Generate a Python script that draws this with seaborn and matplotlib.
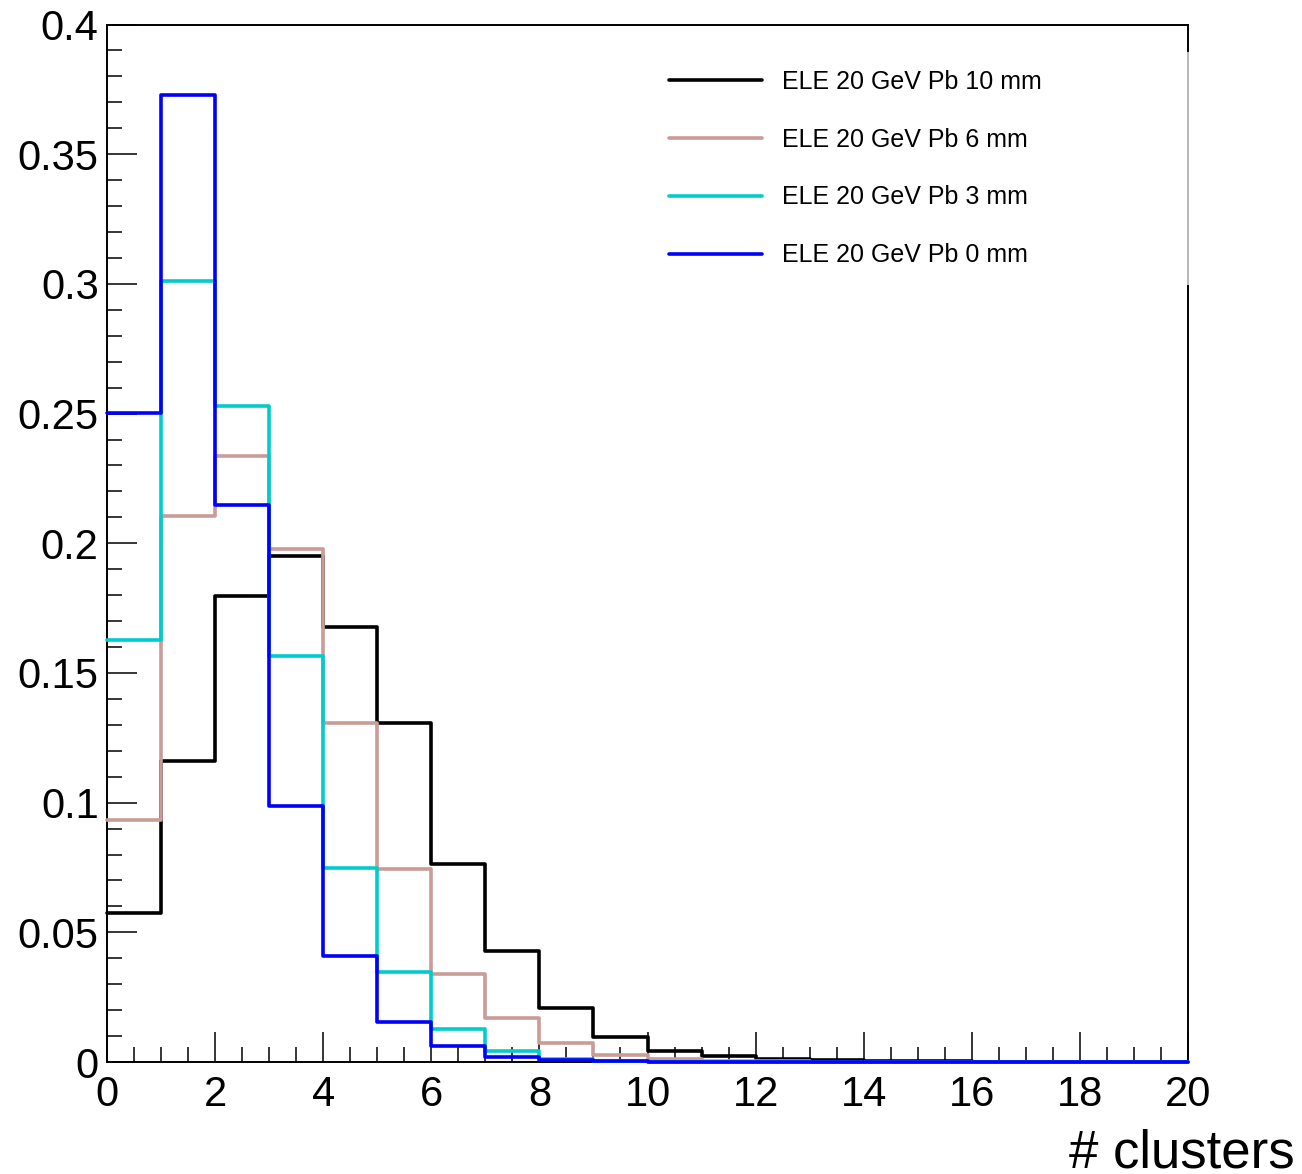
import numpy as np
import pandas as pd
import matplotlib
matplotlib.use("Agg")
import matplotlib.pyplot as plt
from matplotlib.lines import Line2D
from matplotlib.ticker import MultipleLocator
import seaborn as sns

# Normalised cluster-multiplicity distributions, one value per unit bin (0..19)
bin_edges = list(range(0, 21))
bin_centers = [b + 0.5 for b in range(20)]

frac_pb10 = [0.0574, 0.1160, 0.1796, 0.1950, 0.1677, 0.1307, 0.0763, 0.0428, 0.0208, 0.0096,
             0.0042, 0.0023, 0.0010, 0.0006, 0.0003, 0.0002, 0.0001, 0.0, 0.0, 0.0]
frac_pb6 = [0.0933, 0.2105, 0.2336, 0.1978, 0.1307, 0.0744, 0.0339, 0.0170, 0.0073, 0.0027,
            0.0012, 0.0005, 0.0002, 0.0, 0.0, 0.0, 0.0, 0.0, 0.0, 0.0]
frac_pb3 = [0.1627, 0.3010, 0.2529, 0.1565, 0.0748, 0.0347, 0.0127, 0.0042, 0.0013, 0.0004,
            0.0001, 0.0, 0.0, 0.0, 0.0, 0.0, 0.0, 0.0, 0.0, 0.0]
frac_pb0 = [0.2502, 0.3728, 0.2147, 0.0987, 0.0409, 0.0154, 0.0062, 0.0020, 0.0007, 0.0002,
            0.0001, 0.0, 0.0, 0.0, 0.0, 0.0, 0.0, 0.0, 0.0, 0.0]

labels = ["ELE 20 GeV Pb 10 mm", "ELE 20 GeV Pb 6 mm", "ELE 20 GeV Pb 3 mm", "ELE 20 GeV Pb 0 mm"]
colors = ["#000000", "#c99c97", "#00cccc", "#0000ff"]
series = [frac_pb10, frac_pb6, frac_pb3, frac_pb0]

sns.set_theme(style="white")
plt.rcParams["font.family"] = ["Liberation Sans", "DejaVu Sans"]
plt.rcParams["text.color"] = "black"
plt.rcParams["axes.labelcolor"] = "black"
plt.rcParams["xtick.color"] = "black"
plt.rcParams["ytick.color"] = "black"

W, H = 1302, 1174
fig = plt.figure(figsize=(W / 100, H / 100), dpi=100)
ax = fig.add_axes([107 / W, 1 - 1062 / H, (1188 - 107) / W, (1062 - 24.5) / H])

lw = 2.6
for lab, col, vals in zip(labels, colors, series):
    df = pd.DataFrame({"n": bin_centers, "w": vals})
    sns.histplot(data=df, x="n", weights="w", bins=bin_edges, element="step",
                 fill=False, color=col, linewidth=lw, ax=ax, zorder=3, clip_on=False)

ax.set_xlim(0, 20)
ax.set_ylim(0, 0.4)
ax.set_ylabel("")
ax.set_xlabel("# clusters", fontsize=38, ha="right", va="baseline")
ax.xaxis.set_label_coords((1295 - 107) / (1188 - 107), (1062 - 1168) / (1062 - 24.5))

ax.xaxis.set_major_locator(MultipleLocator(2))
ax.xaxis.set_minor_locator(MultipleLocator(0.5))
ax.yaxis.set_minor_locator(MultipleLocator(0.01))
ax.set_yticks(np.arange(0, 0.4001, 0.05))
ax.set_yticklabels(["0", "0.05", "0.1", "0.15", "0.2", "0.25", "0.3", "0.35", "0.4"])

ax.tick_params(axis="both", which="both", direction="in", top=False, right=False,
               bottom=True, left=True, width=1.1, color="black")
ax.tick_params(axis="both", which="major", length=21.5, labelsize=30)
ax.tick_params(axis="both", which="minor", length=11)
ax.tick_params(axis="x", which="major", pad=9)
ax.tick_params(axis="y", which="major", pad=6)

for side in ["left", "right", "top", "bottom"]:
    ax.spines[side].set_visible(True)
    ax.spines[side].set_color("black")
    ax.spines[side].set_linewidth(1.4)

handles = [Line2D([0], [0], color=c, lw=lw) for c in colors]
leg = ax.legend(handles, labels, loc="upper left", mode="expand",
                bbox_to_anchor=(651 / W, 1 - 52 / H, (1192 - 651) / W, 0),
                bbox_transform=fig.transFigure, borderaxespad=0,
                fontsize=18, handlelength=3.7, handletextpad=0.8,
                labelspacing=1.35, borderpad=0.72, frameon=True, fancybox=False)
leg.set_zorder(6)
frame = leg.get_frame()
frame.set_facecolor("white")
frame.set_edgecolor("none")
frame.set_alpha(0.72)

fig.savefig("out.png", dpi=100, facecolor="white")
